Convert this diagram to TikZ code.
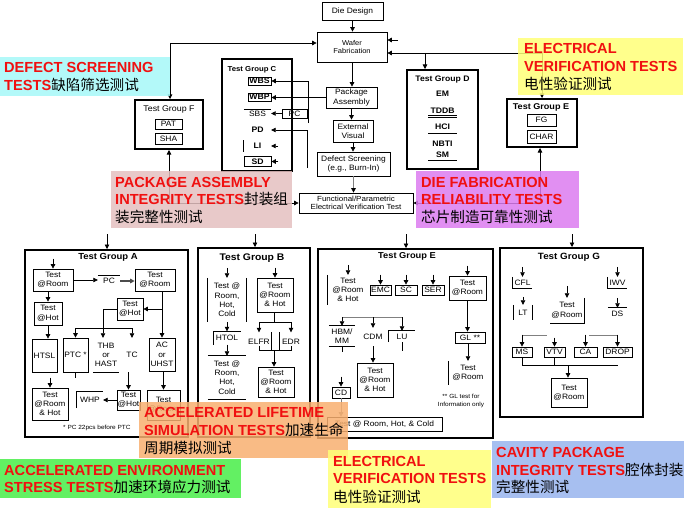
\documentclass[tikz,border=0pt]{standalone}
\usepackage{fontspec}
\setmainfont{Liberation Sans}
\newfontfamily\dgf[FakeStretch=1.08]{Liberation Sans}
\newfontfamily\lbfam{Liberation Sans}
\newfontfamily\cjkf{Noto Sans CJK SC}
\usetikzlibrary{arrows.meta}
\definecolor{lcyan}{HTML}{A6F9F9}
\definecolor{lyel}{HTML}{FFFF78}
\definecolor{lpink}{HTML}{E4C0C0}
\definecolor{lviol}{HTML}{DC7CF0}
\definecolor{lorng}{HTML}{F8B070}
\definecolor{lgrn}{HTML}{48EE48}
\definecolor{lblue}{HTML}{98B4EE}
\definecolor{lred}{HTML}{F01010}
\newcommand\dtxt{\dgf\fontsize{7.8}{9.3}\selectfont}
\newcommand\dsml{\dgf\fontsize{6}{7.2}\selectfont}
\newcommand\dbld{\dgf\bfseries\fontsize{8}{9}\selectfont}
\newcommand\lblfont{\lbfam\bfseries\fontsize{14.6}{17}\selectfont}
\newcommand\zht[1]{{\cjkf\mdseries\color{black}#1}}
\begin{document}
\begin{tikzpicture}[x=1pt, y=-1pt,
 grp/.style={draw, line width=2pt, inner sep=0pt},
 bx/.style={draw, line width=0.7pt, inner sep=0pt, align=center, font=\dtxt},
 tx/.style={inner sep=0pt, align=center, font=\dtxt},
 hd/.style={inner sep=0pt, font=\dgf\bfseries\fontsize{#1}{#1}\selectfont},
 ar/.style={line width=0.7pt, -{Triangle[length=4.5pt,width=4.5pt]}},
 ln/.style={line width=0.7pt},
 gln/.style={line width=0.7pt, gray},
 lab/.style={inner sep=0pt, anchor=base west, font=\lblfont, text=lred},
 zh/.style={inner sep=0pt, anchor=base west, font=\cjkf\fontsize{14.6}{17}\selectfont},
 wh/.style 2 args={minimum width=#1pt, minimum height=#2pt},
 lbox/.style={fill opacity=0.85}
]
\useasboundingbox (0,0) rectangle (684,508);
\fill[white] (0,0) rectangle (684,508);

% ---------- top flow ----------
\node[bx, wh={61}{18}] (die) at (352.5,11) {Die Design};
\node[bx, wh={70}{30}, font=\dgf\fontsize{7}{8.5}\selectfont] (waf) at (352,47) {Wafer\\Fabrication};
\node[bx, wh={51}{21}] (pkg) at (351.5,97.5) {Package\\Assembly};
\node[bx, wh={40}{22}] (ext) at (353,131) {External\\Visual};
\node[bx, wh={73}{24}] (dfs) at (353.5,164) {Defect Screening\\(e.g., Burn-In)};
\node[bx, wh={114}{20}, font=\dgf\fontsize{7.4}{8.6}\selectfont] (fun) at (356,203) {Functional/Parametric\\Electrical Verification Test};

% ---------- Group C ----------
\node[grp, wh={70}{112}] (grpC) at (257,115) {};
\node[hd=7.2] (hC) at (252,70) {Test Group C};
\node[bx, wh={23}{8}, font=\dbld] (wbs) at (259.5,81) {WBS};
\node[bx, wh={23}{8}, font=\dbld] (wbp) at (259.5,97) {WBP};
\node[tx, wh={27}{9}] (sbs) at (257.5,114) {SBS};
\node[tx, wh={27}{9}, font=\dbld] (pd) at (257.5,130) {PD};
\node[tx, wh={27}{11}, font=\dbld] (li) at (257.5,146) {LI};
\node[bx, wh={27}{10}, font=\dbld] (sd) at (257.5,161.5) {SD};
\node[bx, wh={25}{9}] (pcc) at (294.5,113.5) {PC};
\draw[ln] (sbs.north west) -- (sbs.north east);
\draw[ln] (li.north west) -- (li.south west);

% ---------- Group D ----------
\node[grp, wh={71}{99}] (grpD) at (442.5,119.5) {};
\node[hd=8] (hD) at (442.5,80) {Test Group D};
\node[tx, font=\dbld] (em) at (442.5,94) {EM};
\node[tx, font=\dbld] (tddb) at (442.5,110.5) {TDDB};
\node[tx, font=\dbld] (hci) at (442.5,126.5) {HCI};
\node[tx, font=\dbld] (nbti) at (442.5,143.5) {NBTI};
\node[tx, font=\dbld] (sm) at (442.5,155) {SM};
\draw[ln] (428,115) -- (457,115);
\draw[ln] (428,117.7) -- (457,117.7);
\draw[ln] (428,133) -- (457,133);
\draw[ln] (428,160) -- (457,160);

% ---------- Group F ----------
\node[grp, wh={68}{49}] (grpF) at (169,124.5) {};
\node[inner sep=0pt, font=\dgf\fontsize{8.2}{9}\selectfont] (hF) at (169,109) {Test Group F};
\node[bx, wh={27}{10}] (pat) at (168.5,124) {PAT};
\node[bx, wh={27}{11}] (sha) at (168.5,138.5) {SHA};

% ---------- Group E (top) ----------
\node[grp, wh={70}{48}] (grpEt) at (542,123) {};
\node[hd=8.4] (hEt) at (541,107) {Test Group E};
\node[bx, wh={29}{12}] (fg) at (541.5,120) {FG};
\node[bx, wh={29}{13}] (chr) at (541.5,136.5) {CHAR};

% top connectors
\draw[ar] (die.south) -- (die.south |- waf.north);
\draw[ar] (waf.south) -- (waf.south |- pkg.north);
\draw[ar] (pkg.south) -- (pkg.south |- ext.north);
\draw[ar] (ext.south) -- (ext.south |- dfs.north);
\draw[line width=0.7pt, gray, -{Triangle[length=4.5pt,width=4.5pt,color=black]}] (dfs.south) -- (dfs.south |- fun.north);
\coordinate (lt) at (170,43);
\draw[ar] (lt) -- (lt -| waf.west);
\draw[ar] (lt) -- (lt |- grpF.north);
\coordinate (rt) at (542,53);
\draw[ar] (rt) -- (rt -| waf.east);
\draw[ar] (rt) -- (grpEt.north);
\coordinate (dj) at (425,53);
\draw[ar] (dj) -- (dj |- grpD.north);
\coordinate (ua) at (398,40);
\draw[ar] (ua) -- (ua -| waf.east);
\coordinate (lj) at (169,203);
\draw[ar] (lj) -- (lj |- grpF.south);
\draw[ar] (lj) -- (fun.west);
\coordinate (rj) at (540,203);
\draw[ar] (rj) -- (rj |- grpEt.south);
\draw[ar] (rj) -- (fun.east);
\coordinate (cw) at (308,123);
\draw[ar] (cw) -- (cw |- wbs.east) -- (wbs.east);
\draw[ar] (pkg.west) -- (pkg.west -| wbp.east);
\draw[ar] (pcc.west) -- (pcc.west -| sbs.east);
\coordinate (cp) at (307,168);
\draw[ar] (cp) -- (cp |- pd.east) -- (pd.east);
\draw[ar] ([xshift=7pt]li.east) -- (li.east);
\draw[ar] ([xshift=7pt]sd.east) -- (sd.east);

% ---------- bottom groups ----------
\node[grp, wh={163}{187}] (grpA) at (106.5,343.5) {};
\node[grp, wh={112}{189}] (grpB) at (254,342.5) {};
\node[grp, wh={175}{189}] (grpEb) at (405.5,343.5) {};
\node[grp, wh={143}{169}] (grpG) at (571.5,332.5) {};
\coordinate (ina) at (107,234);
\coordinate (inb) at (255,234);
\coordinate (ine) at (406,234);
\coordinate (ing) at (572,234);
\draw[ar] (ina) -- (ina |- grpA.north);
\draw[ar] (inb) -- (inb |- grpB.north);
\draw[ar] (ine) -- (ine |- grpEb.north);
\draw[ar] (ing) -- (ing |- grpG.north);

% ---------- Group A ----------
\node[hd=8.8] (hA) at (108,257) {Test Group A};
\node[bx, wh={40}{22}] (a1) at (53,280) {Test\\@Room};
\node[tx, wh={22}{10}] (apc) at (109,281) {PC};
\draw[ln] (apc.north west) -- (apc.north east);
\node[bx, wh={40}{22}] (a2) at (155,280) {Test\\@Room};
\node[bx, wh={28}{23}] (a3) at (48,313.5) {Test\\@Hot};
\node[bx, wh={25}{33}] (htsl) at (44.5,355.5) {HTSL};
\node[bx, wh={26}{33}] (ac) at (162,354.5) {AC\\or\\UHST};
\node[bx, wh={26}{22}] (a4) at (130,309) {Test\\@Hot};
\node[bx, wh={25}{34}] (ptc) at (75.5,355) {PTC *};
\node[tx, wh={26}{34}] (thb) at (106,355) {THB\\or\\HAST};
\draw[ln] (thb.south west) -- (thb.south east);
\node[tx, wh={20}{34}] (tc) at (132,355) {TC};
\node[bx, wh={36}{32}] (a5) at (50,404) {Test\\@Room\\\& Hot};
\node[bx, wh={23}{20}] (a6) at (128.5,400) {Test\\@Hot};
\node[bx, wh={33}{30}] (a7) at (163.5,405) {Test\\@Room};
\node[tx, wh={26}{16}] (whp) at (90,400) {WHP};
\draw[ln] (whp.south west) -- (whp.north west) -- (whp.north east);
\node[inner sep=0pt, anchor=west, font=\dsml] (pcnote) at (63,428) {* PC 22pcs before PTC};
\draw[ar] ([yshift=10pt]a1.north) -- (a1.north);
\draw[ar] (a1.east) -- (a1.east -| apc.west);
\draw[line width=1.2pt, gray!60!black, -{Triangle[length=4.5pt,width=4.5pt]}] (apc.east) -- (apc.east -| a2.west);
\draw[ar] (a1.south -| a3.north) -- (a3.north);
\draw[ar] (a3.south) -- (a3.south |- htsl.north);
\draw[ar] (a2.south -| ac.north) -- (ac.north);
\draw[ar] (a4.east -| ac.north) -- (a4.east);
\coordinate (asp) at (103,328);
\draw[ln] (a4.west) -- (a4.west -| asp) -- (asp);
\draw[ln] (ptc.north |- asp) -- (tc.north |- asp);
\draw[ar] (ptc.north |- asp) -- (ptc.north);
\draw[ar] (asp) -- (asp |- thb.north);
\draw[ar] (tc.north |- asp) -- (tc.north);
\draw[ln] (ptc.south) -- ++(0,6);
\draw[ar] ([yshift=10pt]a5.north) -- (a5.north);
\draw[ar] (tc.south -| a6.north) -- (a6.north);
\draw[ar] (ac.south -| a7.north) -- (a7.north);
\draw[ar] (a6.west) -- (a6.west -| whp.east);

% ---------- Group B ----------
\node[hd=9.6] (hB) at (252,258) {Test Group B};
\node[tx, wh={38}{44}] (b1) at (227,300) {Test @\\Room,\\Hot,\\Cold};
\draw[ln] (b1.north west) -- (b1.south west);
\draw[ln] (b1.north east) -- (b1.south east);
\node[tx, wh={27}{13}] (htol) at (227,338) {HTOL};
\draw[ln] (htol.south west) -- (htol.north west) -- (htol.north east);
\node[tx, wh={38}{43}] (b3) at (227,377.5) {Test @\\Room,\\Hot,\\Cold};
\draw[ln] (b3.north west) -- (b3.north east);
\draw[ln] (b3.south west) -- (b3.south east);
\node[bx, wh={36}{34}] (b4) at (275,295) {Test\\@Room\\\& Hot};
\node[tx, wh={24}{18}] (elfr) at (259,341.5) {ELFR};
\node[tx, wh={22}{18}] (edr) at (291,341.5) {EDR};
\node[bx, wh={36}{30}] (b5) at (276,382) {Test\\@Room\\\& Hot};
\draw[ar] ([yshift=10pt]b1.north) -- (b1.north);
\draw[ar] (b1.south) -- (b1.south |- htol.north);
\draw[ar] (htol.south) -- (htol.south |- b3.north);
\draw[ar] ([yshift=10pt]b4.north) -- (b4.north);
\coordinate (bsp) at (274,322);
\draw[ln] (b4.south -| bsp) -- (bsp);
\draw[ln] (elfr.north |- bsp) -- (edr.north |- bsp);
\draw[ar] (elfr.north |- bsp) -- (elfr.north);
\draw[ar] (edr.north |- bsp) -- (edr.north);
\draw[ln] (elfr.north east) -- (elfr.south east);
\draw[ln] (edr.north west) -- (edr.south west);
\draw[ln] ([yshift=5pt]elfr.south) -- (elfr.south) -- (edr.south) -- ([yshift=5pt]edr.south);
\coordinate (bj) at (274,350.5);
\draw[ar] (bj) -- (bj |- b5.north);

% ---------- Group E (bottom) ----------
\node[hd=8.6] (hEb) at (407,256) {Test Group E};
\node[tx, wh={40}{30}] (e1) at (348,290) {Test\\@Room\\\& Hot};
\draw[ln] (e1.north west) -- (e1.south west);
\node[bx, wh={21}{10}] (emc) at (380.5,290) {EMC};
\node[bx, wh={22}{10}] (sc) at (406,290) {SC};
\node[bx, wh={22}{10}] (ser) at (433,290) {SER};
\node[bx, wh={37}{24}] (e2) at (467.5,288) {Test\\@Room};
\node[bx, wh={30}{11}] (gl) at (470,337.5) {GL **};
\node[tx, wh={38}{24}] (e3) at (468,373) {Test\\@Room};
\draw[ln] (e3.north west) -- (e3.south west);
\node[tx, font=\dsml] (glnote) at (461,401) {** GL test for\\Information only};
\node[tx, wh={26}{20}] (hbm) at (342,336) {HBM/\\MM};
\draw[ln] (hbm.north west) -- (hbm.north east);
\draw[ln] (hbm.south west) -- (hbm.south east);
\node[tx, wh={20}{18}] (cdm) at (373,337) {CDM};
\node[tx, wh={26}{11}] (lu) at (402,336.5) {LU};
\draw[ln] (lu.south west) -- (lu.north west) -- (lu.north east);
\node[bx, wh={36}{34}] (e4) at (375,380) {Test\\@Room\\\& Hot};
\node[bx, wh={18}{11}] (cd) at (341,392.5) {CD};
\node[bx, wh={115}{14}] (e5) at (384.5,424) {Test @ Room, Hot, \& Cold};
\draw[ar] ([yshift=10pt]e1.north) -- (e1.north);
\draw[ar] ([yshift=10pt]emc.north) -- (emc.north);
\draw[ar] ([yshift=10pt]sc.north) -- (sc.north);
\draw[ar] ([yshift=10pt]ser.north) -- (ser.north);
\draw[ar] ([yshift=10pt]e2.north) -- (e2.north);
\draw[ar] (e2.south) -- (e2.south |- gl.north);
\draw[ar] (gl.south -| e3.north) -- (e3.north);
\coordinate (esp) at (372,317);
\draw[gln] (hbm.north |- esp) -- (lu.north |- esp);
\draw[ar] (hbm.north |- esp) -- (hbm.north);
\draw[ar] (cdm.north |- esp) -- (cdm.north);
\draw[ar] (lu.north |- esp) -- (lu.north);
\draw[ln] (hbm.south) -- ++(0,6);
\draw[ln] (lu.south) -- ++(0,9);
\draw[ar] (cdm.south) -- (cdm.south |- e4.north);
\draw[ar] ([yshift=10pt]cd.north) -- (cd.north);
\draw[line width=0.7pt, gray, -{Triangle[length=4.5pt,width=4.5pt]}] (cd.south) -- (cd.south |- e5.north);

% ---------- Group G ----------
\node[hd=9.1] (hG) at (569,257) {Test Group G};
\node[tx, wh={19}{11}] (cfl) at (522.5,282.5) {CFL};
\draw[ln] (cfl.north west) -- (cfl.south west) -- (cfl.south east);
\node[tx, wh={18}{15}] (lt2) at (523,312.5) {LT};
\draw[ln] (lt2.north west) -- (lt2.south west);
\draw[ln] (lt2.north east) -- (lt2.south east);
\node[tx, wh={34}{25}] (g1) at (567,310.5) {Test\\@Room};
\draw[ln] (g1.north east) -- (g1.south east) -- (g1.south west);
\node[tx, wh={19}{11}] (iwv) at (617.5,282.5) {IWV};
\draw[ln] (iwv.north west) -- (iwv.south west) -- (iwv.south east);
\node[tx, wh={19}{12}] (ds) at (617.5,314) {DS};
\draw[ln] (ds.north west) -- (ds.north east);
\node[bx, wh={20}{10}] (ms) at (522,352) {MS};
\node[bx, wh={21}{10}] (vtv) at (554.5,352) {VTV};
\node[bx, wh={23}{10}] (ca) at (585.5,352) {CA};
\node[bx, wh={29}{10}] (drop) at (617.5,352) {DROP};
\node[bx, wh={36}{29}] (g2) at (569,392.5) {Test\\@Room};
\draw[ar] ([yshift=10pt]cfl.north) -- (cfl.north);
\draw[ar] ([yshift=8pt]lt2.north) -- (lt2.north);
\draw[ar] ([yshift=12pt]g1.north) -- (g1.north);
\draw[ar] ([yshift=10pt]iwv.north) -- (iwv.north);
\draw[ar] ([yshift=10pt]ds.north) -- (ds.north);
\coordinate (gq1) at (547,335);
\coordinate (gq2) at (589,335);
\draw[gln] (ms.north |- gq1) -- (gq1);
\draw[gln] (gq2) -- (drop.north |- gq2);
\draw[ar] ([yshift=12pt]ms.north) -- (ms.north);
\draw[ar] ([yshift=9pt]vtv.north) -- (vtv.north);
\draw[ar] ([yshift=12pt]ca.north) -- (ca.north);
\draw[ar] ([yshift=12pt]drop.north) -- (drop.north);
\coordinate (gb) at (568,365);
\draw[ln] (ms.south) -- (ms.south |- gb) -- (gb -| drop.south);
\draw[ln] (vtv.south) -- (vtv.south |- gb);
\draw[ar] (gb) -- (gb |- g2.north);

% ---------- colored labels ----------
\fill[lcyan, lbox] (0,57) rectangle (170,96);
\node[lab] (l1a) at (4,73) {DEFECT SCREENING};
\node[lab] (l1b) at (4,91) {TESTS\zht{缺陷筛选测试}};

\fill[lyel, lbox] (518,38) rectangle (683,95);
\node[lab] (l2a) at (524,54) {ELECTRICAL};
\node[lab] (l2b) at (524,72) {VERIFICATION TESTS};
\node[zh] (l2c) at (524,90) {电性验证测试};

\fill[lpink, lbox] (111,171) rectangle (292,228);
\node[lab] (l3a) at (115,187) {PACKAGE ASSEMBLY};
\node[lab] (l3b) at (115,204) {INTEGRITY TESTS\zht{封装组}};
\node[zh] (l3c) at (115,222) {装完整性测试};

\fill[lviol, lbox] (416,171) rectangle (579,228);
\node[lab] (l4a) at (421,187) {DIE FABRICATION};
\node[lab] (l4b) at (421,204) {RELIABILITY TESTS};
\node[zh] (l4c) at (421,222) {芯片制造可靠性测试};

\fill[lorng, lbox] (139,402) rectangle (348,458);
\node[lab] (l5a) at (144,417) {ACCELERATED LIFETIME};
\node[lab] (l5b) at (144,435) {SIMULATION TESTS\zht{加速生命}};
\node[zh] (l5c) at (144,453) {周期模拟测试};

\fill[lgrn, lbox] (0,459) rectangle (241,498);
\node[lab] (l6a) at (4,475) {ACCELERATED ENVIRONMENT};
\node[lab] (l6b) at (4,492) {STRESS TESTS\zht{加速环境应力测试}};

\fill[lyel, lbox] (328,450) rectangle (491,508);
\node[lab] (l7a) at (333,466) {ELECTRICAL};
\node[lab] (l7b) at (333,483) {VERIFICATION TESTS};
\node[zh] (l7c) at (333,502) {电性验证测试};

\fill[lblue, lbox] (492,441) rectangle (684,498);
\node[lab] (l8a) at (496,457) {CAVITY PACKAGE};
\node[lab] (l8b) at (496,475) {INTEGRITY TESTS\zht{腔体封装}};
\node[zh] (l8c) at (496,492) {完整性测试};
\end{tikzpicture}
\end{document}
